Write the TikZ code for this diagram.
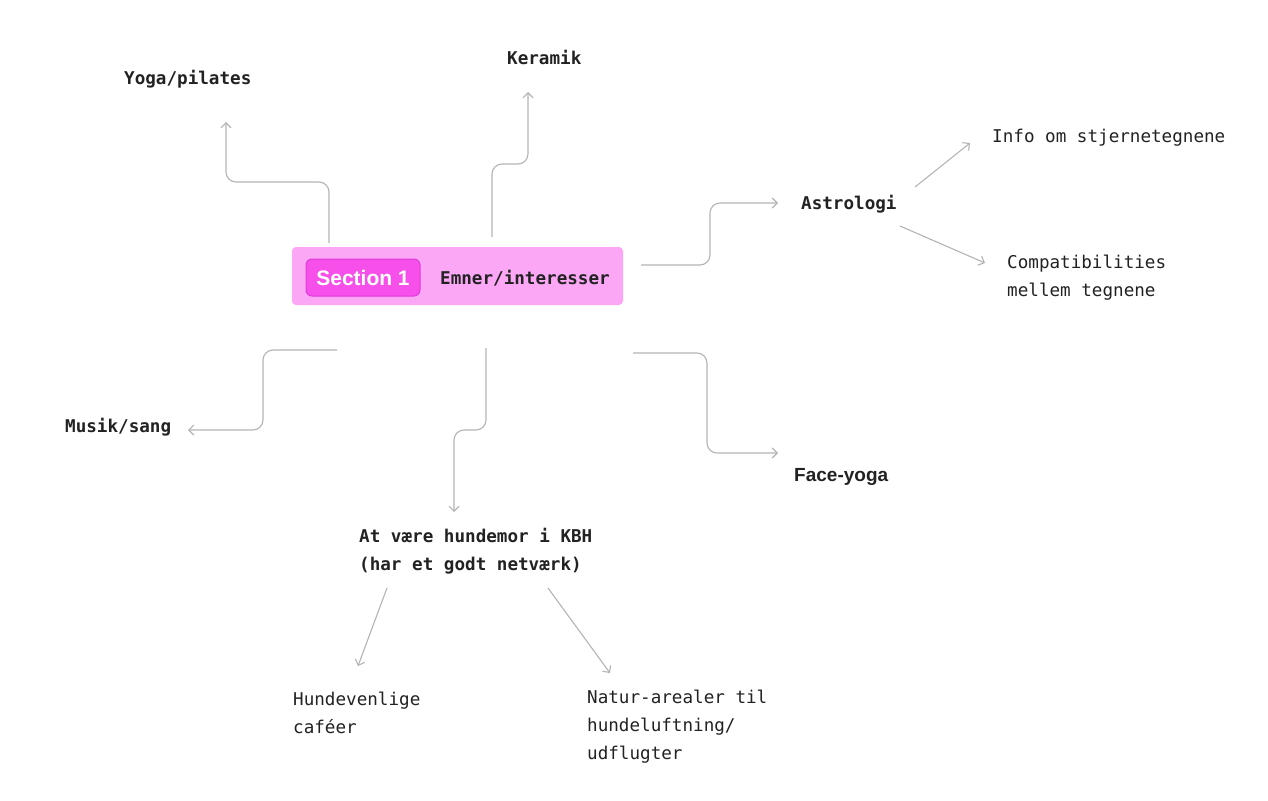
\documentclass[tikz,border=0pt]{standalone}
\usepackage{fontspec}
\newfontfamily\monof{DejaVu Sans Mono}
\newfontfamily\sansf{Liberation Sans}
\usetikzlibrary{arrows.meta}
\definecolor{ink}{HTML}{222222}
\definecolor{wire}{HTML}{B4B4B4}
\definecolor{boxfill}{HTML}{FBA7F6}
\definecolor{pillfill}{HTML}{F74FEA}
\definecolor{pilledge}{HTML}{E03CD7}
\tikzset{
  lbl/.style={font=\monof\fontsize{17.6}{28}\selectfont, text=ink, inner sep=0pt, anchor=west, align=left},
  blbl/.style={lbl, font=\monof\bfseries\fontsize{17.6}{28}\selectfont},
  conn/.style={draw=wire, line width=1.1pt, rounded corners=10pt, -{Straight Barb[length=5pt,width=10pt]}},
  mainbox/.style={fill=boxfill, rounded corners=4pt, minimum width=331pt, minimum height=58pt, inner sep=0pt},
  pillbox/.style={fill=pillfill, draw=pilledge, line width=1pt, rounded corners=6pt, minimum width=114pt, minimum height=37pt, inner sep=0pt, text=white, font=\sansf\bfseries\fontsize{21}{26}\selectfont}
}
\begin{document}
\begin{tikzpicture}[x=1pt,y=-1pt]
\path[fill=white] (0,0) rectangle (1268,800);
\useasboundingbox (0,0) rectangle (1268,800);

% central node
\node[mainbox] (main) at (457.5,276) {};
\node[pillbox] (sec) at (363,277.5) {Section 1};
\node[blbl] (emner) at (440,278) {Emner/interesser};

% labels
\node[blbl] (yoga) at (124,79) {Yoga/pilates};
\node[blbl] (keramik) at (507,57) {Keramik};
\node[blbl] (astro) at (801,204) {Astrologi};
\node[lbl] (info) at (992,138) {Info om stjernetegnene};
\node[lbl] (compat) at (1007,277.5) {Compatibilities\\mellem tegnene};
\node[blbl] (musik) at (65,427) {Musik/sang};
\node[inner sep=0pt, anchor=west, text=ink, font=\sansf\bfseries\fontsize{19}{22}\selectfont] (face) at (794,477) {Face-yoga};
\node[blbl] (hund) at (359,551) {At være hundemor i KBH\\(har et godt netværk)};
\node[lbl] (cafe) at (293,713) {Hundevenlige\\caféer};
\node[lbl] (natur) at (587,727) {Natur-arealer til\\hundeluftning/\\udflugter};

% connector end points
\coordinate (ys) at (329,243); \coordinate (ym) at (226,182); \coordinate (yt) at (226,122);
\coordinate (ks) at (492,237); \coordinate (km) at (528,164); \coordinate (kt) at (528,92);
\coordinate (as) at (641,265); \coordinate (am) at (710,203); \coordinate (at) at (778,203);
\coordinate (ms) at (337,350); \coordinate (mm) at (263,430); \coordinate (mt) at (188,430);
\coordinate (hs) at (486,348); \coordinate (hm) at (454,430); \coordinate (ht) at (454,512);
\coordinate (fs) at (633,353); \coordinate (fm) at (707,453); \coordinate (ft) at (778,453);
\coordinate (is) at (915,187); \coordinate (it) at (970,143);
\coordinate (cs) at (900,226); \coordinate (ct) at (985,263);
\coordinate (vs) at (387,588); \coordinate (vt) at (358,666);
\coordinate (ns) at (548,588); \coordinate (nt) at (610,673);

% connectors
\draw[conn] (ys) |- (ym) -- (yt);
\draw[conn] (ks) |- (km) -- (kt);
\draw[conn] (as) -| (am) -- (at);
\draw[conn] (ms) -| (mm) -- (mt);
\draw[conn] (hs) |- (hm) -- (ht);
\draw[conn] (fs) -| (fm) -- (ft);
\draw[conn] (is) -- (it);
\draw[conn] (cs) -- (ct);
\draw[conn] (vs) -- (vt);
\draw[conn] (ns) -- (nt);
\end{tikzpicture}
\end{document}
